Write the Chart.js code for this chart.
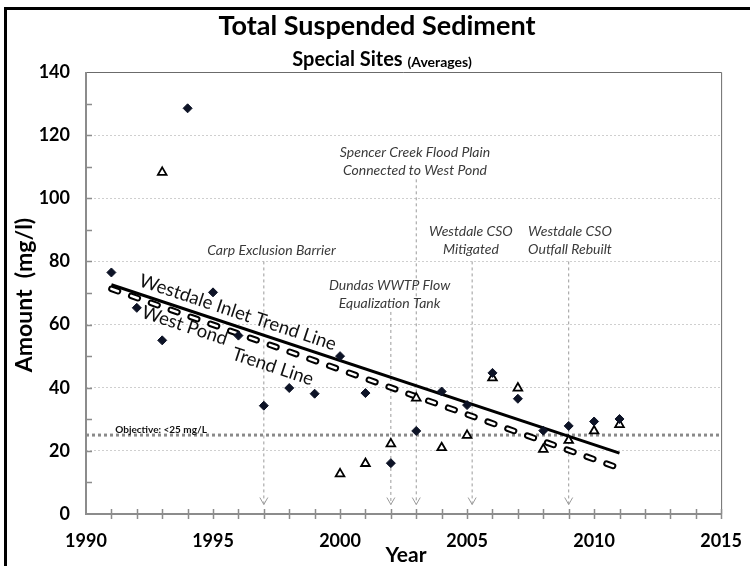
<!DOCTYPE html>
<html>
<head>
<meta charset="utf-8">
<script src="https://cdn.jsdelivr.net/npm/chart.js@4.4.1/dist/chart.umd.min.js"></script>
<style>
  body { margin: 0; background: #fff; }
  #wrap { width: 750px; height: 566px; position: relative; }
</style>
</head>
<body>
<div id="wrap"><canvas id="tssChart" width="750" height="566"></canvas></div>
<script>
// Westdale Inlet (filled diamonds)
const inletYears = [1991, 1992, 1993, 1994, 1995, 1996, 1997, 1998, 1999, 2000, 2001, 2002, 2003, 2004, 2005, 2006, 2007, 2008, 2009, 2010, 2011];
const inletValues = [76.5, 65.3, 55, 128.5, 70.2, 56.5, 34.3, 39.9, 38.1, 50, 38.3, 16.1, 26.3, 38.8, 34.5, 44.7, 36.5, 26.4, 27.9, 29.3, 30.1];

// West Pond (open triangles)
const pondYears = [1993, 2000, 2001, 2002, 2003, 2004, 2005, 2006, 2007, 2008, 2009, 2010, 2011];
const pondValues = [108.2, 12.7, 16, 22.2, 36.7, 21, 24.9, 43.1, 39.9, 20.5, 23.3, 26.3, 28.3];

// trend lines (end points)
const trendYears = [1991, 2011];
const inletTrend = [72.6, 19.3];
const pondTrend = [71.3, 14.5];

// objective
const objectiveYears = [1990, 2015];
const objectiveValue = 25;

// events
const eventYears = [1997, 2002, 2003, 2005.2, 2009];
const eventTops = [80, 64, 106, 80, 80];
const eventBottom = 3;
const eventLabels = [
    ['Carp Exclusion Barrier'],
    ['Dundas WWTP Flow', 'Equalization Tank'],
    ['Spencer Creek Flood Plain', 'Connected to West Pond'],
    ['Westdale CSO', 'Mitigated'],
    ['Westdale CSO', 'Outfall Rebuilt']
];
// label centre (year, value of first line)
const eventLabelX = [1997.3, 2001.95, 2002.95, 2005.15, 2009.05];
const eventLabelY = [83.5, 72.5, 114.5, 89.5, 89.5];

const xTicks = [1990, 1995, 2000, 2005, 2010, 2015];

const FONT = 'Lato, "Open Sans", sans-serif';

function pts(xs, ys) {
    return xs.map((x, i) => ({ x: x, y: ys[i] }));
}

function eventLinePoints() {
    const out = [];
    eventYears.forEach((yr, i) => {
        out.push({ x: yr, y: eventTops[i] });
        out.push({ x: yr, y: eventBottom });
        out.push({ x: yr, y: null });
    });
    return out;
}

const decorPlugin = {
    id: 'decor',
    beforeDatasetsDraw(chart) {
        const { ctx, chartArea: a, scales: { x, y } } = chart;
        ctx.save();
        // plot frame top/right
        ctx.strokeStyle = '#6b6b6b';
        ctx.lineWidth = 1;
        ctx.beginPath();
        ctx.moveTo(a.left, a.top + 0.5);
        ctx.lineTo(a.right + 0.5, a.top + 0.5);
        ctx.lineTo(a.right + 0.5, a.bottom);
        ctx.stroke();
        // axis lines
        ctx.strokeStyle = '#8c8c8c';
        ctx.lineWidth = 2;
        ctx.beginPath();
        ctx.moveTo(a.left, a.top);
        ctx.lineTo(a.left, a.bottom);
        ctx.lineTo(a.right, a.bottom);
        ctx.stroke();
        // minor ticks
        ctx.lineWidth = 1.5;
        ctx.beginPath();
        for (let yr = 1991; yr <= 2015; yr++) {
            const px = Math.round(x.getPixelForValue(yr)) + 0.5;
            ctx.moveTo(px, a.bottom - 5);
            ctx.lineTo(px, a.bottom + 5);
        }
        for (let v = 10; v <= 130; v += 10) {
            const py = Math.round(y.getPixelForValue(v)) + 0.5;
            ctx.moveTo(a.left, py);
            ctx.lineTo(a.left + 6, py);
        }
        ctx.stroke();
        ctx.restore();
    },
    afterDatasetsDraw(chart) {
        const { ctx, chartArea: a, scales: { x, y } } = chart;
        ctx.save();

        // event arrows
        ctx.strokeStyle = '#9a9a9a';
        ctx.lineWidth = 1;
        eventYears.forEach(yr => {
            const px = x.getPixelForValue(yr);
            const py = y.getPixelForValue(eventBottom);
            ctx.beginPath();
            ctx.moveTo(px - 4, py - 7);
            ctx.lineTo(px, py);
            ctx.lineTo(px + 4, py - 7);
            ctx.stroke();
        });

        // event labels
        ctx.fillStyle = '#3a3a3a';
        ctx.font = 'italic 14px ' + FONT;
        ctx.textAlign = 'center';
        ctx.textBaseline = 'middle';
        eventLabels.forEach((lines, i) => {
            const cx = x.getPixelForValue(eventLabelX[i]);
            const cy = y.getPixelForValue(eventLabelY[i]);
            lines.forEach((t, j) => ctx.fillText(t, cx, cy + j * 18));
        });

        // objective label
        ctx.fillStyle = '#111';
        ctx.font = 'bold 10px ' + FONT;
        ctx.textAlign = 'left';
        ctx.fillText('Objective: <25 mg/L', x.getPixelForValue(1991.15), y.getPixelForValue(objectiveValue + 1.6));

        // rotated trend labels
        const ang = Math.atan2(
            y.getPixelForValue(inletTrend[1]) - y.getPixelForValue(inletTrend[0]),
            x.getPixelForValue(trendYears[1]) - x.getPixelForValue(trendYears[0])
        );
        ctx.font = '18.5px ' + FONT;
        ctx.fillStyle = '#111';
        ctx.textBaseline = 'alphabetic';
        [['Westdale Inlet Trend Line', 1992.05, 72.3],
         ['West Pond', 1992.15, 62.3],
         ['Trend Line', 1995.7, 49.1]].forEach(([t, xv, yv]) => {
            ctx.save();
            ctx.translate(x.getPixelForValue(xv), y.getPixelForValue(yv));
            ctx.rotate(ang);
            ctx.fillText(t, 0, 0);
            ctx.restore();
        });

        // titles
        ctx.fillStyle = '#000';
        ctx.textAlign = 'center';
        ctx.textBaseline = 'middle';
        ctx.font = 'bold 27px ' + FONT;
        ctx.fillText('Total Suspended Sediment', 377, 26);
        const s1 = 'Special Sites ';
        ctx.font = 'bold 14px ' + FONT;
        const w2 = ctx.measureText('(Averages)').width;
        ctx.font = 'bold 20px ' + FONT;
        const w1 = ctx.measureText(s1).width;
        const sx = 382 - (w1 + w2) / 2;
        ctx.textAlign = 'left';
        ctx.fillText(s1, sx, 60);
        ctx.font = 'bold 14px ' + FONT;
        ctx.fillText('(Averages)', sx + w1, 62);

        // axis titles
        ctx.textAlign = 'center';
        ctx.font = 'bold 23px ' + FONT;
        ctx.save();
        ctx.translate(25, 295);
        ctx.rotate(-Math.PI / 2);
        ctx.fillText('Amount  (mg/l)', 0, 0);
        ctx.restore();
        ctx.font = 'bold 21px ' + FONT;
        ctx.fillText('Year', 406, 555);

        // outer frame
        ctx.fillStyle = '#000';
        ctx.fillRect(4, 7, 3, 566);
        ctx.fillRect(4, 7, 746, 3);
        ctx.restore();
    }
};

const ctx = document.getElementById('tssChart').getContext('2d');
const tssChart = new Chart(ctx, {
    type: 'scatter',
    data: {
        datasets: [
            {
                label: 'Westdale Inlet',
                data: pts(inletYears, inletValues),
                pointStyle: 'rectRot',
                pointRadius: 4.5,
                backgroundColor: '#0d1326',
                borderColor: '#0d1326',
                borderWidth: 1,
                order: 0
            },
            {
                label: 'West Pond',
                data: pts(pondYears, pondValues),
                pointStyle: 'triangle',
                pointRadius: 5,
                backgroundColor: '#ffffff',
                borderColor: '#000000',
                borderWidth: 1.8,
                order: 1
            },
            {
                label: 'Westdale Inlet Trend',
                data: pts(trendYears, inletTrend),
                showLine: true,
                borderColor: '#000',
                borderWidth: 3,
                pointRadius: 0,
                order: 2
            },
            {
                label: 'West Pond Trend (inner)',
                data: pts(trendYears, pondTrend),
                showLine: true,
                borderColor: '#fff',
                borderWidth: 2.5,
                borderDash: [7, 14],
                borderCapStyle: 'round',
                pointRadius: 0,
                order: 3
            },
            {
                label: 'West Pond Trend',
                data: pts(trendYears, pondTrend),
                showLine: true,
                borderColor: '#000',
                borderWidth: 6.5,
                borderDash: [7, 14],
                borderCapStyle: 'round',
                pointRadius: 0,
                order: 4
            },
            {
                label: 'Objective',
                data: pts(objectiveYears, objectiveYears.map(() => objectiveValue)),
                showLine: true,
                borderColor: '#8a8a8a',
                borderWidth: 3,
                borderDash: [3, 3],
                pointRadius: 0,
                order: 5
            },
            {
                label: 'Events',
                data: eventLinePoints(),
                showLine: true,
                spanGaps: false,
                borderColor: '#9a9a9a',
                borderWidth: 1,
                borderDash: [3, 3],
                pointRadius: 0,
                order: 6
            }
        ]
    },
    options: {
        responsive: false,
        animation: false,
        layout: { padding: { left: 0, top: 72, right: 27, bottom: 0 } },
        plugins: {
            legend: { display: false },
            tooltip: { enabled: false }
        },
        scales: {
            x: {
                type: 'linear',
                min: 1990,
                max: 2015,
                afterFit: s => { s.height = 52; },
                afterBuildTicks: s => { s.ticks = xTicks.map(v => ({ value: v })); },
                ticks: {
                    autoSkip: false,
                    maxRotation: 0,
                    padding: 8,
                    color: '#000',
                    font: { family: FONT, size: 18, weight: 'bold' },
                    callback: v => String(v)
                },
                grid: { display: false },
                border: { display: false }
            },
            y: {
                min: 0,
                max: 140,
                afterFit: s => { s.width = 86; },
                ticks: {
                    stepSize: 20,
                    padding: 16,
                    color: '#000',
                    font: { family: FONT, size: 18, weight: 'bold' },
                    callback: v => String(v)
                },
                grid: {
                    drawTicks: false,
                    color: c => (c.tick && c.tick.value > 0 && c.tick.value < 140) ? '#cfcfcf' : 'transparent',
                    lineWidth: 1
                },
                border: { display: false, dash: [2, 2] }
            }
        }
    },
    plugins: [decorPlugin]
});
</script>
</body>
</html>
